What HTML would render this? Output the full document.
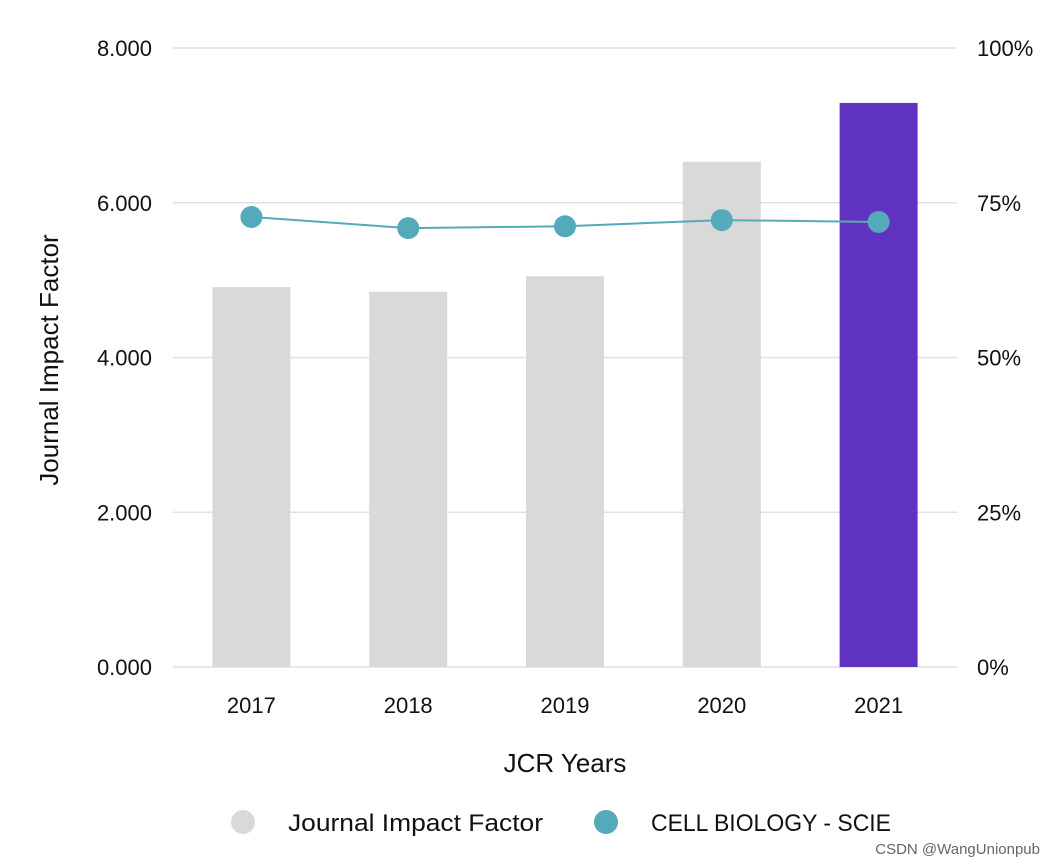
<!DOCTYPE html>
<html><head><meta charset="utf-8"><style>
html,body{margin:0;padding:0;background:#fff;}
svg{display:block;font-family:"Liberation Sans",sans-serif;}
</style></head><body>
<svg id="chart" width="1053" height="867" viewBox="0 0 1053 867"></svg>
<script>
const categories=["2017","2018","2019","2020","2021"];
const jifValues=[4.91,4.85,5.05,6.53,7.29];
const rankPercent=[72.7,70.9,71.2,72.2,71.9];
const leftTicks=[0,2,4,6,8];
const leftTickLabels=["0.000","2.000","4.000","6.000","8.000"];
const rightTicks=[0,25,50,75,100];
const rightTickLabels=["0%","25%","50%","75%","100%"];

const NS="http://www.w3.org/2000/svg";
const svg=document.getElementById('chart');
const X0=173,X1=957,Y0=667,Y1=48;
const band=(X1-X0)/categories.length;
const xc=i=>X0+band*(i+0.5);
const yL=v=>Y0-(v/8)*(Y0-Y1);
const yR=v=>Y0-(v/100)*(Y0-Y1);
function mk(tag,attrs,text){const e=document.createElementNS(NS,tag);for(const k in attrs)e.setAttribute(k,attrs[k]);if(text!==undefined)e.textContent=text;svg.appendChild(e);return e;}

leftTicks.forEach((t,i)=>{
  const g=mk('line',{x1:X0,x2:X1,y1:yL(t),y2:yL(t),stroke:'#e0e0e0','stroke-width':1.5});
  
  
  const l=mk('text',{x:152,y:yL(t)+8,'text-anchor':'end','font-size':22,fill:'#111'},leftTickLabels[i]);
  
  
});
rightTicks.forEach((t,i)=>{
  const l=mk('text',{x:977,y:yR(t)+8,'text-anchor':'start','font-size':22,fill:'#111'},rightTickLabels[i]);
  
  
});
categories.forEach((c,i)=>{
  const b=mk('rect',{x:xc(i)-39,y:yL(jifValues[i]),width:78,height:Y0-yL(jifValues[i]),fill:i===categories.length-1?'#5f33c0':'#d9d9d9'});
  
  
  const l=mk('text',{x:xc(i),y:713,'text-anchor':'middle','font-size':22,fill:'#111'},c);
  
  
});
const pl=mk('polyline',{points:rankPercent.map((v,i)=>xc(i)+','+yR(v)).join(' '),fill:'none',stroke:'#54a9bb','stroke-width':2});


rankPercent.forEach((v,i)=>{
  const p=mk('circle',{cx:xc(i),cy:yR(v),r:11,fill:'#54a9bb'});
  
  
});
const yt=mk('text',{x:0,y:0,transform:'translate(58,360) rotate(-90)','text-anchor':'middle','font-size':26,fill:'#111'},'Journal Impact Factor');


const xt=mk('text',{x:565,y:772,'text-anchor':'middle','font-size':26,fill:'#111'},'JCR Years');


const c1=mk('circle',{cx:243,cy:822,r:12,fill:'#d9d9d9'});


const t1=mk('text',{x:288,y:831,'font-size':24,fill:'#111',textLength:255,lengthAdjust:'spacingAndGlyphs'},'Journal Impact Factor');


const c2=mk('circle',{cx:606,cy:822,r:12,fill:'#54a9bb'});


const t2=mk('text',{x:651,y:831,'font-size':24,fill:'#111',textLength:240,lengthAdjust:'spacingAndGlyphs'},'CELL BIOLOGY - SCIE');


const wm=mk('text',{x:1040,y:854,'text-anchor':'end','font-size':15,fill:'#666'},'CSDN @WangUnionpub');


</script>
</body></html>
